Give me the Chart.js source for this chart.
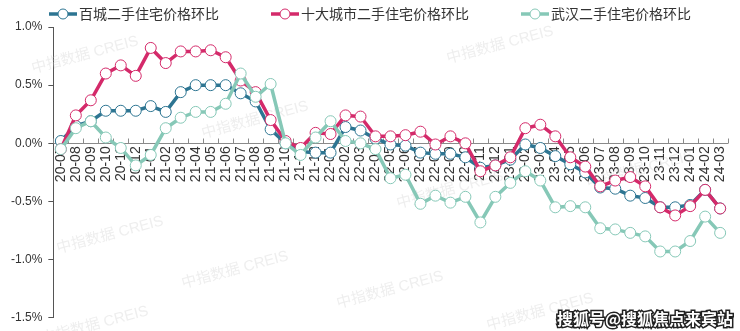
<!DOCTYPE html>
<html>
<head>
<meta charset="utf-8">
<script src="https://cdn.jsdelivr.net/npm/chart.js@4/dist/chart.umd.min.js"></script>
<style>
  html, body { margin: 0; padding: 0; background: #fff; }
  #wrap { width: 740px; height: 331px; }
</style>
</head>
<body>
<div id="wrap"><canvas id="priceChart"></canvas></div>
<script>
const months = ['20-07', '20-08', '20-09', '20-10', '20-11', '20-12',
    '21-01', '21-02', '21-03', '21-04', '21-05', '21-06', '21-07', '21-08', '21-09', '21-10', '21-11', '21-12',
    '22-01', '22-02', '22-03', '22-04', '22-05', '22-06', '22-07', '22-08', '22-09', '22-10', '22-11', '22-12',
    '23-01', '23-02', '23-03', '23-04', '23-05', '23-06', '23-07', '23-08', '23-09', '23-10', '23-11', '23-12',
    '24-01', '24-02', '24-03'];

// 百城二手住宅价格环比 (%)
const hundredCities = [0.02, 0.15, 0.19, 0.28, 0.28, 0.28,
    0.32, 0.27, 0.44, 0.50, 0.50, 0.50, 0.43, 0.36, 0.12, 0.00, -0.07, -0.08,
    -0.08, 0.14, 0.11, 0.04, -0.01, -0.02, -0.08, -0.09, -0.09, -0.12, -0.21, -0.19,
    -0.14, -0.01, -0.04, -0.11, -0.18, -0.25, -0.38, -0.39, -0.45, -0.47, -0.55, -0.55,
    -0.53, -0.40, -0.56];

// 十大城市二手住宅价格环比 (%)
const tenCities = [-0.05, 0.24, 0.37, 0.60, 0.67, 0.58,
    0.82, 0.69, 0.79, 0.79, 0.80, 0.74, 0.54, 0.44, 0.20, 0.02, -0.04, 0.09,
    0.08, 0.24, 0.23, 0.06, 0.06, 0.07, 0.10, -0.01, 0.06, 0.00, -0.24, -0.19,
    -0.12, 0.13, 0.16, 0.06, -0.12, -0.20, -0.37, -0.32, -0.29, -0.37, -0.55, -0.62,
    -0.54, -0.40, -0.56];

// 武汉二手住宅价格环比 (%)
const wuhan = [-0.05, 0.13, 0.19, 0.05, -0.04, -0.19,
    -0.10, 0.13, 0.22, 0.27, 0.27, 0.34, 0.60, 0.40, 0.51, 0.00, -0.10, 0.05,
    0.19, 0.02, 0.00, -0.05, -0.30, -0.27, -0.52, -0.45, -0.51, -0.46, -0.68, -0.46,
    -0.34, -0.24, -0.32, -0.55, -0.54, -0.55, -0.73, -0.74, -0.77, -0.80, -0.93, -0.93,
    -0.84, -0.63, -0.77];

const seriesNames = ['百城二手住宅价格环比', '十大城市二手住宅价格环比', '武汉二手住宅价格环比'];
const seriesColors = ['#2d7592', '#d42a6a', '#86c8b7'];
const yTicks = [-1.5, -1.0, -0.5, 0.0, 0.5, 1.0];

const FONT = '"Liberation Sans", Arial, "Noto Sans CJK SC", sans-serif';

function makeSeries(label, data, color, order) {
    return {
        label: label,
        data: data,
        borderColor: color,
        backgroundColor: color,
        borderWidth: 3.5,
        pointRadius: 5.5,
        pointHoverRadius: 5.5,
        pointBackgroundColor: '#ffffff',
        pointBorderColor: color,
        pointBorderWidth: 1,
        tension: 0,
        order: order
    };
}

// light watermark text behind the lines
const watermark = {
    id: 'watermark',
    beforeDatasetsDraw(chart) {
        const ctx = chart.ctx;
        const spots = [[85, 55], [500, 45], [255, 120], [110, 235], [640, 170],
            [235, 270], [390, 290], [540, 312], [95, 325], [450, 190]];
        ctx.save();
        ctx.fillStyle = 'rgba(205, 205, 205, 0.35)';
        ctx.font = '15px ' + FONT;
        ctx.textAlign = 'center';
        ctx.textBaseline = 'middle';
        spots.forEach(p => {
            ctx.save();
            ctx.translate(p[0], p[1]);
            ctx.rotate(-0.26);
            ctx.fillText('中指数据 CREIS', 0, 0);
            ctx.restore();
        });
        ctx.restore();
    }
};

// small upward ticks on the zero line, between categories
const zeroTicks = {
    id: 'zeroTicks',
    beforeDatasetsDraw(chart) {
        const x = chart.scales.x, y = chart.scales.y;
        const ctx = chart.ctx;
        const y0 = Math.round(y.getPixelForValue(0)) + 0.5;
        ctx.save();
        ctx.strokeStyle = '#8a8a8a';
        ctx.lineWidth = 1;
        ctx.beginPath();
        for (let i = 0; i <= months.length; i++) {
            const a = x.getPixelForValue(Math.max(i - 1, 0));
            const b = x.getPixelForValue(Math.min(i, months.length - 1));
            let px;
            if (i === 0) px = a - (x.getPixelForValue(1) - a) / 2;
            else if (i === months.length) px = b + (b - x.getPixelForValue(months.length - 2)) / 2;
            else px = (a + b) / 2;
            px = Math.round(px) + 0.5;
            ctx.moveTo(px, y0);
            ctx.lineTo(px, y0 - 5);
        }
        ctx.stroke();
        ctx.restore();
    }
};

// legend row and source text
const legendRow = {
    id: 'legendRow',
    afterDraw(chart) {
        const ctx = chart.ctx;
        ctx.save();
        ctx.font = '14px ' + FONT;
        ctx.textBaseline = 'middle';
        const iconW = 28, gap = 52;
        const widths = seriesNames.map(n => iconW + 2 + ctx.measureText(n).width);
        const total = widths.reduce((s, w) => s + w, 0) + gap * (widths.length - 1);
        let x = (chart.width - total) / 2;
        const ly = 14;
        seriesNames.forEach((name, i) => {
            ctx.strokeStyle = seriesColors[i];
            ctx.lineWidth = 3.5;
            ctx.beginPath();
            ctx.moveTo(x, ly);
            ctx.lineTo(x + iconW, ly);
            ctx.stroke();
            ctx.beginPath();
            ctx.arc(x + iconW / 2, ly, 5, 0, Math.PI * 2);
            ctx.fillStyle = '#fff';
            ctx.fill();
            ctx.lineWidth = 1;
            ctx.stroke();
            ctx.fillStyle = '#333';
            ctx.fillText(name, x + iconW + 2, ly + 1);
            x += widths[i] + gap;
        });

        ctx.font = 'bold 16px "Noto Sans CJK SC", sans-serif';
        ctx.textAlign = 'right';
        ctx.lineWidth = 3;
        ctx.strokeStyle = '#222';
        ctx.fillStyle = '#fff';
        ctx.strokeText('搜狐号@搜狐焦点来宾站', 733, 319);
        ctx.fillText('搜狐号@搜狐焦点来宾站', 733, 319);
        ctx.restore();
    }
};

const ctx1 = document.getElementById('priceChart').getContext('2d');
new Chart(ctx1, {
    type: 'line',
    data: {
        labels: months,
        datasets: [
            makeSeries(seriesNames[0], hundredCities, seriesColors[0], 2),
            makeSeries(seriesNames[1], tenCities, seriesColors[1], 1),
            makeSeries(seriesNames[2], wuhan, seriesColors[2], 0)
        ]
    },
    options: {
        responsive: true,
        maintainAspectRatio: false,
        animation: false,
        events: [],
        layout: { padding: { top: 27, left: 5, right: 4, bottom: 1 } },
        plugins: {
            legend: { display: false },
            tooltip: { enabled: false }
        },
        scales: {
            x: {
                position: { y: 0 },
                offset: true,
                afterFit: (scale) => { scale.height = 0; },
                grid: { display: true, drawOnChartArea: false, drawTicks: false },
                border: { display: true, color: '#8a8a8a', width: 1 },
                ticks: {
                    autoSkip: false,
                    maxRotation: 90,
                    minRotation: 90,
                    padding: 3,
                    color: '#333',
                    font: { family: FONT, size: 14 }
                }
            },
            y: {
                min: -1.5,
                max: 1.0,
                afterBuildTicks: (scale) => { scale.ticks = yTicks.map(v => ({ value: v })); },
                grid: { display: true, drawOnChartArea: false, drawTicks: true, tickLength: 5, color: '#555' },
                border: { display: true, color: '#555', width: 1 },
                ticks: {
                    padding: 6,
                    color: '#333',
                    font: { family: FONT, size: 12 },
                    callback: (v) => Number(v).toFixed(1) + '%'
                }
            }
        }
    },
    plugins: [watermark, zeroTicks, legendRow]
});
</script>
</body>
</html>
